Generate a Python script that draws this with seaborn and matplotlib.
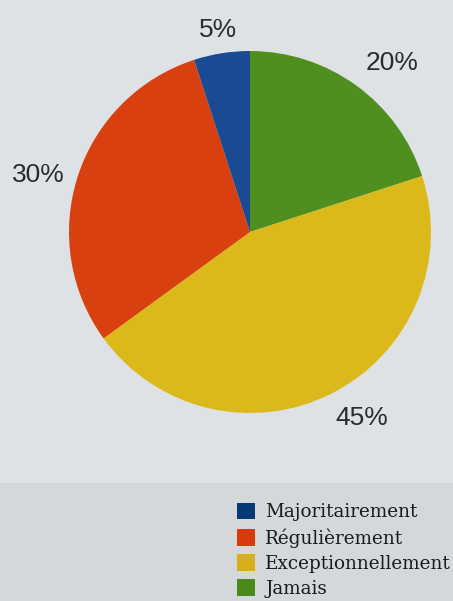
import numpy as np
import matplotlib
matplotlib.use("Agg")
import matplotlib.pyplot as plt
from matplotlib.patches import Patch, Rectangle
import seaborn as sns

# Response categories (legend order) and their shares in percent
categories = ["Majoritairement", "Régulièrement", "Exceptionnellement", "Jamais"]
shares = [5, 30, 45, 20]
pct_labels = ["5%", "30%", "45%", "20%"]

# Slice colours and matching legend swatch colours
slice_colors = ["#1a4a92", "#d9400f", "#dcb91b", "#4f8f1f"]
legend_colors = ["#063a74", "#d83a0a", "#d5b01b", "#4a8a1a"]

sns.set_theme(style="white")
plt.rcParams["font.family"] = ["Liberation Sans", "DejaVu Sans"]

W, H = 453, 601
fig = plt.figure(figsize=(W / 100, H / 100), dpi=100)
fig.patch.set_facecolor("#d4d8db")

# Slightly lighter panel behind the pie
fig.patches.append(Rectangle((0, 1 - 483 / H), 1, 483 / H, transform=fig.transFigure,
                             facecolor="#dfe2e5", edgecolor="none", zorder=-5))

cx, cy, r = 250, 232, 181
ax = fig.add_axes([(cx - r) / W, 1 - (cy + r) / H, 2 * r / W, 2 * r / H])
ax.set_facecolor("none")
ax.set_zorder(2)

# Draw clockwise from 12 o'clock: Jamais, Exceptionnellement, Régulièrement, Majoritairement
order = [3, 2, 1, 0]
wedges, _ = ax.pie([shares[i] for i in order], colors=[slice_colors[i] for i in order],
                   startangle=90, counterclock=False, radius=1.0,
                   wedgeprops=dict(linewidth=0, antialiased=True))
ax.set_xlim(-1, 1)
ax.set_ylim(-1, 1)
ax.set_aspect("equal")
ax.axis("off")

# Percentage labels outside each slice
label_dist = {0: 1.13, 1: 1.21, 2: 1.20, 3: 1.22}
angle_shift = {0: 0, 1: 3, 2: 4, 3: -4}
for w, i in zip(wedges, order):
    mid = np.deg2rad((w.theta1 + w.theta2) / 2 + angle_shift[i])
    d = label_dist[i]
    ax.text(d * np.cos(mid), d * np.sin(mid), pct_labels[i], ha="center", va="center",
            fontsize=19, color="#2a2a2a", clip_on=False)

handles = [Patch(facecolor=c, edgecolor="none") for c in legend_colors]
leg = fig.legend(handles, categories, loc="upper left",
                 bbox_to_anchor=(237 / W, 1 - 503 / H), frameon=False,
                 prop=dict(family="DejaVu Serif", size=13.2),
                 handlelength=1.0, handleheight=1.0, handletextpad=0.55,
                 labelspacing=0.36, borderpad=0, borderaxespad=0)
for t in leg.get_texts():
    t.set_color("#1a1a1a")

fig.savefig("out.png", dpi=100, facecolor=fig.get_facecolor())
